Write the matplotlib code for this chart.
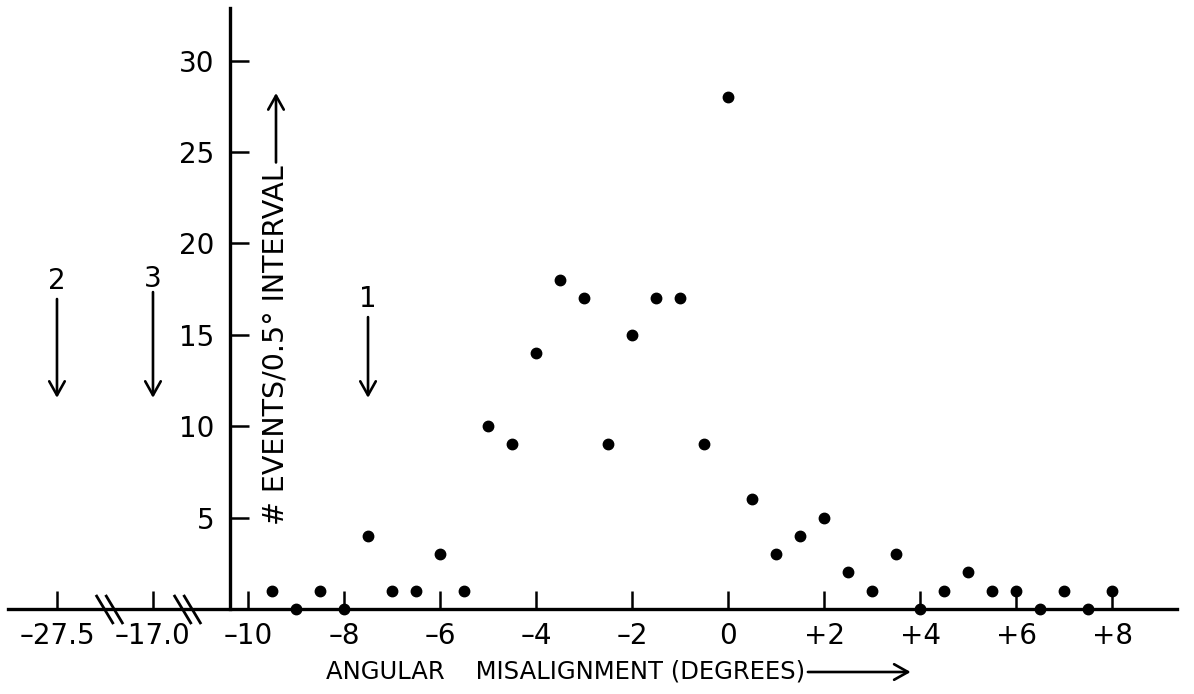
import numpy as np
import matplotlib
matplotlib.use("Agg")
import matplotlib.pyplot as plt
from matplotlib.path import Path
from matplotlib.text import OffsetFrom, Annotation

# events per 0.5 degree interval
angle = [-9.5, -9.0, -8.5, -8.0, -7.5, -7.0, -6.5, -6.0, -5.5, -5.0, -4.5, -4.0,
         -3.5, -3.0, -2.5, -2.0, -1.5, -1.0, -0.5, 0.0, 0.5, 1.0, 1.5, 2.0,
         2.5, 3.0, 3.5, 4.0, 4.5, 5.0, 5.5, 6.0, 6.5, 7.0, 7.5, 8.0]
events = [1, 0, 1, 0, 4, 1, 1, 3, 1, 10, 9, 14,
          18, 17, 9, 15, 17, 17, 9, 28, 6, 3, 4, 5,
          2, 1, 3, 0, 1, 2, 1, 1, 0, 1, 0, 1]

# marked angles (arrows 2, 3, 1)
mark_names = ["2", "3", "1"]
mark_angle = [-27.5, -17.0, -7.5]

xticks = [-27.5, -17.0, -10, -8, -6, -4, -2, 0, 2, 4, 6, 8]
xtick_labels = ["\u201327.5", "\u201317.0", "\u201310", "\u20138", "\u20136", "\u20134",
                "\u20132", "0", "+2", "+4", "+6", "+8"]
yticks = [5, 10, 15, 20, 25, 30]

# broken x axis: compress the far left part
brk_raw = [-40.0, -27.5, -17.0, -10.0, 20.0]
brk_lin = [-16.36, -13.98, -11.98, -10.0, 20.0]


def fwd(x):
    return np.interp(x, brk_raw, brk_lin)


def inv(x):
    return np.interp(x, brk_lin, brk_raw)


W, H = 1194, 694
fig = plt.figure(figsize=(W / 100, H / 100), dpi=100)
ax = fig.add_axes([8 / W, 85 / H, 1169 / W, 601 / H])
ax.set_xscale("function", functions=(fwd, inv))
ax.set_xlim(-32.86, 9.354)
ax.set_ylim(0, 32.88)

for s in ["top", "right"]:
    ax.spines[s].set_visible(False)
ax.spines["bottom"].set_linewidth(2.4)
ax.spines["left"].set_linewidth(2.4)
ax.spines["left"].set_position(("data", -11.33))

ax.set_xticks(xticks)
ax.set_xticklabels(xtick_labels)
ax.set_yticks(yticks)
ax.set_yticklabels([str(v) for v in yticks])
ax.tick_params(axis="x", direction="in", length=13, width=1.8, pad=9, labelsize=20)
ax.tick_params(axis="y", direction="in", length=14, width=1.8, pad=11, labelsize=20)
ax.xaxis.set_minor_locator(matplotlib.ticker.NullLocator())

ax.plot(angle, events, "o", color="black", ms=7.5, clip_on=False, zorder=5)

# axis break marks
brk_marker = Path([(-0.93, 1), (0.27, -1), (-0.27, 1), (0.93, -1)],
                  [Path.MOVETO, Path.LINETO, Path.MOVETO, Path.LINETO])
ax.plot([-21.8, -14.5], [0, 0], linestyle="none", marker=brk_marker, ms=21,
        mfc="none", mec="black", mew=2.0, clip_on=False)

# arrows marking special angles
label_y = [17.94, 18.05, 16.96]
tail_y = [16.96, 17.34, 15.97]
tip_y = 11.55
for name, xa, ly, ty in zip(mark_names, mark_angle, label_y, tail_y):
    ax.text(xa, ly, name, fontsize=20, ha="center", va="center")
    ax.annotate("", xy=(xa, tip_y), xytext=(xa, ty),
                arrowprops=dict(arrowstyle="->,head_length=0.5,head_width=0.28",
                                lw=1.9, color="black", shrinkA=0, shrinkB=0,
                                mutation_scale=20))

# axis titles with long arrows
aprops = dict(arrowstyle="->,head_length=0.5,head_width=0.28", lw=1.9,
              color="black", shrinkA=0, shrinkB=0, mutation_scale=20)
xl = fig.text(326 / W, 22 / H, "ANGULAR    MISALIGNMENT (DEGREES)", fontsize=17.5,
              ha="left", va="center")
fig.add_artist(Annotation(
    "", xy=(76, 0), xycoords=OffsetFrom(xl, (1, 0.5), unit="points"),
    xytext=(2, 0), textcoords=OffsetFrom(xl, (1, 0.5), unit="points"),
    arrowprops=aprops))

yl = fig.text(276 / W, 169 / H, "# EVENTS/0.5\u00b0 INTERVAL", fontsize=20.5,
              rotation=90, ha="center", va="bottom")
fig.add_artist(Annotation(
    "", xy=(0, 52), xycoords=OffsetFrom(yl, (0.5, 1), unit="points"),
    xytext=(0, 2), textcoords=OffsetFrom(yl, (0.5, 1), unit="points"),
    arrowprops=aprops))

fig.savefig("out.png", dpi=100)
